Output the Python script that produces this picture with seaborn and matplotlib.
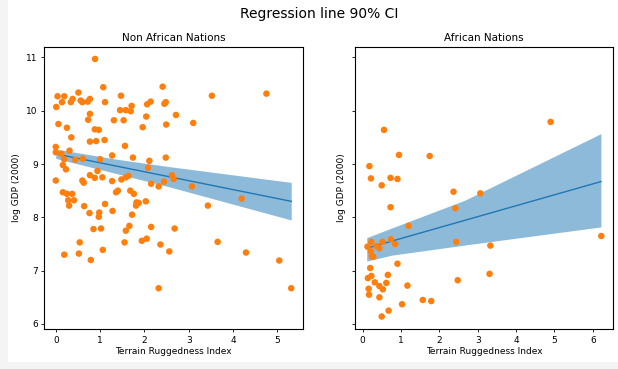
import matplotlib
matplotlib.use("Agg")
import matplotlib.pyplot as plt
import seaborn as sns
import pandas as pd
from matplotlib.patches import Rectangle

# Non African nations: terrain ruggedness index vs log GDP (2000)
non_af_rugged = [0.885, 1.07, 0.04, 0.19, 0.51, 0.38, 0.34, 0.14, 0.56, 0.60,
                 0.72, 0.77, 1.11, 1.47, 2.41, 3.52, 4.75, 2.48, 2.45, 2.14,
                 2.06, 1.71, 1.69, 1.45, 1.58, 0.01, 0.77, 2.04, 2.71, 0.06,
                 0.73, 1.31, 1.53, 3.10, 2.49, 0.25, 0.88, 0.97, 1.96, 0.35,
                 0.77, 0.91, 1.10, 1.56, 0.00, 0.31, 0.00, 0.13, 0.19, 0.23,
                 0.16, 0.44, 0.61, 1.00, 1.27, 1.74, 2.11, 2.08, 2.48, 0.00,
                 0.77, 0.88, 0.94, 1.05, 0.60, 0.63, 1.27, 1.48, 1.58, 1.64,
                 2.62, 2.66, 2.44, 2.15, 2.32, 3.07, 4.19, 0.16, 0.25, 0.37,
                 1.36, 1.40, 1.68, 1.76, 0.28, 0.41, 0.30, 0.64, 1.11, 1.82,
                 1.87, 1.81, 2.03, 3.43, 0.76, 0.98, 0.97, 1.28, 1.72, 1.66,
                 1.58, 0.85, 1.02, 2.15, 2.68, 1.94, 2.05, 1.55, 0.54, 1.06,
                 2.36, 2.56, 3.65, 4.29, 0.19, 0.52, 0.79, 5.04, 2.32, 5.31]
non_af_gdp = [10.97, 10.44, 10.27, 10.27, 10.34, 10.22, 10.16, 10.16, 10.19, 10.16,
              10.17, 10.22, 10.16, 10.28, 10.45, 10.28, 10.32, 10.16, 10.13, 10.17,
              10.12, 10.09, 9.99, 10.01, 10.01, 10.07, 9.94, 9.89, 9.92, 9.75,
              9.83, 9.82, 9.82, 9.77, 9.74, 9.68, 9.65, 9.64, 9.69, 9.50,
              9.42, 9.43, 9.45, 9.34, 9.32, 9.25, 9.22, 9.19, 9.09, 8.90,
              8.98, 9.08, 9.10, 9.09, 9.16, 9.12, 9.06, 8.93, 9.12, 8.69,
              8.79, 8.74, 8.87, 8.75, 8.69, 8.65, 8.68, 8.71, 8.75, 8.78,
              8.79, 8.72, 8.67, 8.63, 8.58, 8.58, 8.35, 8.47, 8.44, 8.44,
              8.47, 8.50, 8.50, 8.44, 8.32, 8.32, 8.22, 8.21, 8.25, 8.28,
              8.27, 8.22, 8.30, 8.22, 8.08, 8.09, 8.01, 8.12, 8.05, 7.84,
              7.75, 7.78, 7.79, 7.82, 7.79, 7.56, 7.60, 7.53, 7.53, 7.39,
              7.49, 7.36, 7.54, 7.34, 7.30, 7.32, 7.20, 7.19, 6.67, 6.67]

# Non African regression line and 90% CI band
non_af_line_x = [0.00, 5.31]
non_af_line_y = [9.19, 8.30]
non_af_band_x = [0.00, 1.37, 2.57, 5.31]
non_af_band_lo = [9.105, 8.82, 8.57, 7.95]
non_af_band_hi = [9.28, 9.09, 8.95, 8.655]

# African nations
af_rugged = [4.90, 0.56, 0.95, 1.75, 0.18, 0.22, 0.73, 0.91, 0.50, 2.37,
             3.07, 0.73, 2.42, 1.20, 0.13, 0.23, 0.52, 0.74, 0.37, 0.44,
             0.85, 0.22, 0.24, 0.28, 2.44, 3.33, 6.22, 0.91, 0.20, 0.14,
             0.23, 0.66, 0.32, 0.62, 0.44, 0.53, 3.31, 2.48, 1.17, 0.16,
             0.17, 0.44, 1.57, 1.79, 1.03, 0.68, 0.50]
af_gdp = [9.79, 9.64, 9.17, 9.15, 8.96, 8.73, 8.74, 8.72, 8.60, 8.48,
          8.45, 8.19, 8.17, 7.84, 7.45, 7.54, 7.54, 7.59, 7.46, 7.42,
          7.50, 7.36, 7.27, 7.26, 7.54, 7.47, 7.65, 7.13, 7.05, 6.86,
          6.90, 6.92, 6.78, 6.77, 6.71, 6.65, 6.94, 6.82, 6.72, 6.66,
          6.55, 6.50, 6.45, 6.43, 6.37, 6.25, 6.14]

# African regression line and 90% CI band
af_line_x = [0.11, 6.21]
af_line_y = [7.42, 8.67]
af_band_x = [0.11, 0.76, 2.66, 6.21]
af_band_lo = [7.18, 7.29, 7.48, 7.82]
af_band_hi = [7.62, 7.80, 8.32, 9.57]

titles = ["Non African Nations", "African Nations"]
suptitle = "Regression line 90% CI"
xlabel = "Terrain Ruggedness Index"
ylabel = "log GDP (2000)"

W, H = 618, 369
fig = plt.figure(figsize=(W / 100, H / 100), dpi=100, facecolor="#f4f4f4")
fig.patches.append(Rectangle((8 / W, 7 / H), 1, 1, transform=fig.transFigure,
                             facecolor="white", edgecolor="none", zorder=-10))

bottom = 1 - 329.3 / H
height = (329.3 - 46.7) / H
ax1 = fig.add_axes([44 / W, bottom, (303 - 44) / W, height])
ax2 = fig.add_axes([355 / W, bottom, (613 - 355) / W, height], sharey=ax1)

panels = [
    (ax1, non_af_rugged, non_af_gdp, non_af_line_x, non_af_line_y,
     non_af_band_x, non_af_band_lo, non_af_band_hi, titles[0]),
    (ax2, af_rugged, af_gdp, af_line_x, af_line_y,
     af_band_x, af_band_lo, af_band_hi, titles[1]),
]
for ax, xs, ys, lx, ly, bx, blo, bhi, title in panels:
    df = pd.DataFrame({"rugged": xs, "gdp": ys})
    ax.fill_between(bx, blo, bhi, color="#1f77b4", alpha=0.5, lw=0, zorder=1)
    sns.lineplot(x=lx, y=ly, ax=ax, color="#1f77b4", lw=1.0, zorder=2)
    sns.scatterplot(data=df, x="rugged", y="gdp", ax=ax, color="#ff7f0e",
                    s=22, edgecolor="none", linewidth=0, zorder=3)
    ax.set_title(title, fontsize=7.5, pad=4)
    ax.set_xlabel(xlabel, fontsize=6.5, labelpad=2)
    ax.set_ylabel(ylabel, fontsize=6.5, labelpad=4)
    ax.tick_params(labelsize=6.5, length=2.5, width=0.6, pad=2)
    for sp in ax.spines.values():
        sp.set_linewidth(0.8)
    ax.margins(x=0.05, y=0.05)

ax1.set_xticks([0, 1, 2, 3, 4, 5])
ax2.set_xticks([0, 1, 2, 3, 4, 5, 6])
ax1.set_yticks([6, 7, 8, 9, 10, 11])
ax1.set_ylim(5.9, 11.2)
ax2.tick_params(labelleft=False)

fig.suptitle(suptitle, fontsize=10, x=319.5 / W, y=1 - 14 / H, va="center")
fig.savefig("out.png", dpi=100, facecolor=fig.get_facecolor())
